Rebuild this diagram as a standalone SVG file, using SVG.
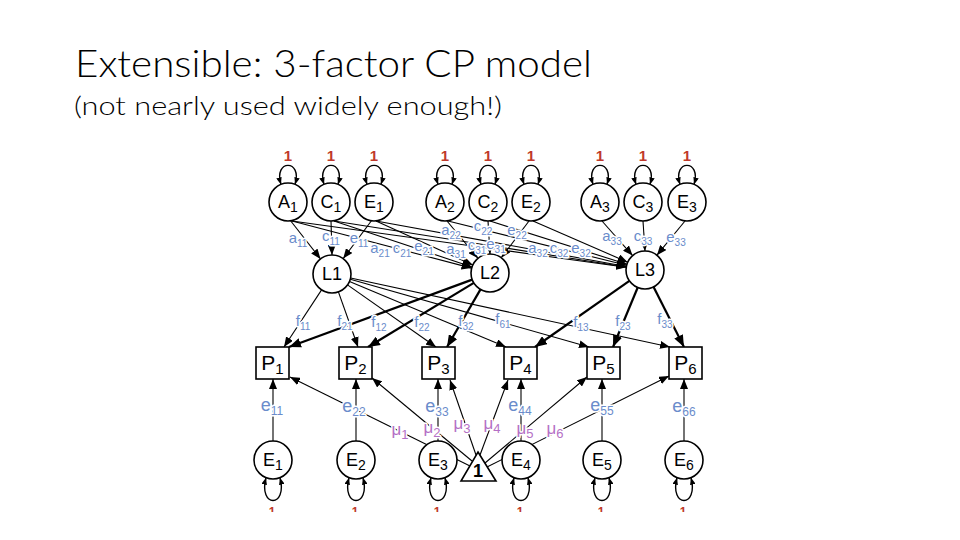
<svg xmlns="http://www.w3.org/2000/svg" width="960" height="540" viewBox="0 0 960 540">
<defs>
<marker id="ah" viewBox="0 0 10 8" refX="10" refY="4" markerWidth="10" markerHeight="8" markerUnits="userSpaceOnUse" orient="auto-start-reverse"><path d="M0,0 L10,4 L0,8 z" fill="#000"/></marker>
<marker id="ahb" viewBox="0 0 10 8" refX="10" refY="4" markerWidth="12" markerHeight="9.6" markerUnits="userSpaceOnUse" orient="auto-start-reverse"><path d="M0,0 L10,4 L0,8 z" fill="#000"/></marker>
<marker id="ahs" viewBox="0 0 10 8" refX="10" refY="4" markerWidth="7" markerHeight="5.6" markerUnits="userSpaceOnUse" orient="auto-start-reverse"><path d="M0,0 L10,4 L0,8 z" fill="#000"/></marker>
<clipPath id="clipb"><rect x="0" y="0" width="960" height="512"/></clipPath>
</defs>
<style>
.c{fill:#fff;stroke:#000;stroke-width:1.6}
.ln{stroke:#000;stroke-width:1.1;fill:none;marker-end:url(#ah)}
.lb{stroke:#000;stroke-width:2.2;fill:none;marker-end:url(#ahb)}
.loop{fill:none;stroke:#000;stroke-width:1.4;marker-start:url(#ahs);marker-end:url(#ahs)}
.nt{font-family:"Liberation Sans",Arial,sans-serif;font-size:18px;text-anchor:middle;fill:#000}
.nt .s{font-size:14px}
.pt{font-family:"Liberation Sans",Arial,sans-serif;font-size:21px;text-anchor:middle;fill:#000}
.pt .s{font-size:15px}
.lab{font-family:"Liberation Sans",Arial,sans-serif;font-size:15px;fill:#6a8ccb;text-anchor:middle;stroke:#fff;stroke-width:3;paint-order:stroke;stroke-linejoin:round}
.lab .s{font-size:10px}
.el{font-size:18px}
.el .s{font-size:12px}
.mu{fill:#b46fc5;font-size:17px}
.mu .s{font-size:13px}
.one{font-family:"Liberation Sans",Arial,sans-serif;font-weight:bold;font-size:15px;fill:#c0392b;text-anchor:middle}
.oneb{font-family:"Liberation Sans",Arial,sans-serif;font-weight:bold;font-size:12px;fill:#c0392b;text-anchor:middle}
.title{font-family:Lato,"Open Sans","Liberation Sans",sans-serif;font-weight:300;fill:#000}
</style>
<rect width="960" height="540" fill="#fff"/>
<text class="title" x="75" y="77" font-size="38" textLength="517" lengthAdjust="spacingAndGlyphs">Extensible: 3-factor CP model</text>
<text class="title" x="74" y="115" font-size="26" textLength="428" lengthAdjust="spacingAndGlyphs">(not nearly used widely enough!)</text>

<g id="connectors">
<path class="ln" d="M290,220 L320.5,258.9"/>
<path class="ln" d="M331,221 L332,255"/>
<path class="ln" d="M372,220 L343.2,258.6"/>
<path class="ln" d="M292,221 L471.6,268.1"/>
<path class="ln" d="M292,221 L626.2,267.3"/>
<path class="ln" d="M334,221 L472,266.9"/>
<path class="ln" d="M334,221 L626.2,267"/>
<path class="ln" d="M376,221 L472.8,265"/>
<path class="ln" d="M376,221 L626.3,266.5"/>
<path class="ln" d="M447,221 L478,258.3"/>
<path class="ln" d="M448,221 L626.6,265.3"/>
<path class="ln" d="M488,221 L490,254"/>
<path class="ln" d="M490,221 L626.9,264.2"/>
<path class="ln" d="M529,221 L501.3,257.7"/>
<path class="ln" d="M533,221 L627.7,262.2"/>
<path class="ln" d="M602,221 L632.6,255.6"/>
<path class="ln" d="M643,221 L645,251"/>
<path class="ln" d="M685,221 L656.9,255.2"/>

<path class="ln" d="M321.6,289.9 L284,347"/>
<path class="ln" d="M338.4,291.9 L358,347"/>
<path class="ln" d="M347.5,284.9 L436,347"/>
<path class="ln" d="M349.5,281.4 L506,347"/>
<path class="ln" d="M350.3,279.2 L589,347"/>
<path class="ln" d="M350.6,278 L670,347"/>
<path class="lb" d="M472.2,279.6 L289,347"/>
<path class="lb" d="M473.8,282.9 L368,347"/>
<path class="lb" d="M480.5,289.4 L447,347"/>
<path class="lb" d="M629.4,280.9 L535,347"/>
<path class="lb" d="M637.7,287.5 L613,347"/>
<path class="lb" d="M653.6,287 L684,347"/>

<path class="ln" d="M273,441 L273,379"/>
<path class="ln" d="M356,441 L356,379"/>
<path class="ln" d="M438,441 L438,379"/>
<path class="ln" d="M521,441 L521,379"/>
<path class="ln" d="M602,441 L602,379"/>
<path class="ln" d="M684,441 L684,379"/>

<path class="ln" d="M470,466 L290,377"/>
<path class="ln" d="M472,461 L372,378"/>
<path class="ln" d="M476,455 L450,380"/>
<path class="ln" d="M480,455 L508,380"/>
<path class="ln" d="M485,463 L587,377"/>
<path class="ln" d="M487,467 L669,376"/>

<path class="loop" d="M281,184.4 C273,159 303,159 295,184.4"/>
<path class="loop" d="M324,184.4 C316,159 346,159 338,184.4"/>
<path class="loop" d="M367,184.4 C359,159 389,159 381,184.4"/>
<path class="loop" d="M438,184.4 C430,159 460,159 452,184.4"/>
<path class="loop" d="M481,184.4 C473,159 503,159 495,184.4"/>
<path class="loop" d="M524,184.4 C516,159 546,159 538,184.4"/>
<path class="loop" d="M593,184.4 C585,159 615,159 607,184.4"/>
<path class="loop" d="M636,184.4 C628,159 658,159 650,184.4"/>
<path class="loop" d="M680,184.4 C672,159 702,159 694,184.4"/>

<path class="loop" d="M266,477.7 C258,508 288,508 280,477.7"/>
<path class="loop" d="M349,477.7 C341,508 371,508 363,477.7"/>
<path class="loop" d="M431,477.7 C423,508 453,508 445,477.7"/>
<path class="loop" d="M514,477.7 C506,508 536,508 528,477.7"/>
<path class="loop" d="M595,477.7 C587,508 617,508 609,477.7"/>
<path class="loop" d="M677,477.7 C669,508 699,508 691,477.7"/>
</g>

<g id="A1"><circle class="c" cx="288" cy="202" r="19"/><text class="nt" x="288" y="208">A<tspan class="s" dy="4">1</tspan></text></g>
<g id="C1"><circle class="c" cx="331" cy="202" r="19"/><text class="nt" x="331" y="208">C<tspan class="s" dy="4">1</tspan></text></g>
<g id="E1top"><circle class="c" cx="374" cy="202" r="19"/><text class="nt" x="374" y="208">E<tspan class="s" dy="4">1</tspan></text></g>
<g id="A2"><circle class="c" cx="445" cy="202" r="19"/><text class="nt" x="445" y="208">A<tspan class="s" dy="4">2</tspan></text></g>
<g id="C2"><circle class="c" cx="488" cy="202" r="19"/><text class="nt" x="488" y="208">C<tspan class="s" dy="4">2</tspan></text></g>
<g id="E2top"><circle class="c" cx="531" cy="202" r="19"/><text class="nt" x="531" y="208">E<tspan class="s" dy="4">2</tspan></text></g>
<g id="A3"><circle class="c" cx="600" cy="202" r="19"/><text class="nt" x="600" y="208">A<tspan class="s" dy="4">3</tspan></text></g>
<g id="C3"><circle class="c" cx="643" cy="202" r="19"/><text class="nt" x="643" y="208">C<tspan class="s" dy="4">3</tspan></text></g>
<g id="E3top"><circle class="c" cx="687" cy="202" r="19"/><text class="nt" x="687" y="208">E<tspan class="s" dy="4">3</tspan></text></g>

<g id="ones-top">
<text class="one" x="288" y="161">1</text><text class="one" x="331" y="161">1</text><text class="one" x="374" y="161">1</text>
<text class="one" x="445" y="161">1</text><text class="one" x="488" y="161">1</text><text class="one" x="531" y="161">1</text>
<text class="one" x="600" y="161">1</text><text class="one" x="643" y="161">1</text><text class="one" x="687" y="161">1</text>
</g>

<g id="L1"><circle class="c" cx="332" cy="274" r="19"/><text class="nt" x="332" y="280" font-size="17">L1</text></g>
<g id="L2"><circle class="c" cx="490" cy="273" r="19"/><text class="nt" x="490" y="279" font-size="17">L2</text></g>
<g id="L3"><circle class="c" cx="645" cy="270" r="19"/><text class="nt" x="645" y="276" font-size="17">L3</text></g>

<g id="P1"><rect class="c" x="256" y="347" width="33" height="32"/><text class="pt" x="272.5" y="370">P<tspan class="s" dy="4">1</tspan></text></g>
<g id="P2"><rect class="c" x="339" y="347" width="33" height="32"/><text class="pt" x="355.5" y="370">P<tspan class="s" dy="4">2</tspan></text></g>
<g id="P3"><rect class="c" x="422" y="347" width="33" height="32"/><text class="pt" x="438.5" y="370">P<tspan class="s" dy="4">3</tspan></text></g>
<g id="P4"><rect class="c" x="504" y="347" width="33" height="32"/><text class="pt" x="520.5" y="370">P<tspan class="s" dy="4">4</tspan></text></g>
<g id="P5"><rect class="c" x="587" y="347" width="33" height="32"/><text class="pt" x="603.5" y="370">P<tspan class="s" dy="4">5</tspan></text></g>
<g id="P6"><rect class="c" x="669" y="347" width="33" height="32"/><text class="pt" x="685.5" y="370">P<tspan class="s" dy="4">6</tspan></text></g>

<g id="Eb1"><circle class="c" cx="273" cy="460" r="19"/><text class="nt" x="273" y="466" font-size="19">E<tspan class="s" dy="4">1</tspan></text></g>
<g id="Eb2"><circle class="c" cx="356" cy="460" r="19"/><text class="nt" x="356" y="466" font-size="19">E<tspan class="s" dy="4">2</tspan></text></g>
<g id="Eb3"><circle class="c" cx="438" cy="460" r="19"/><text class="nt" x="438" y="466" font-size="19">E<tspan class="s" dy="4">3</tspan></text></g>
<g id="Eb4"><circle class="c" cx="521" cy="460" r="19"/><text class="nt" x="521" y="466" font-size="19">E<tspan class="s" dy="4">4</tspan></text></g>
<g id="Eb5"><circle class="c" cx="602" cy="460" r="19"/><text class="nt" x="602" y="466" font-size="19">E<tspan class="s" dy="4">5</tspan></text></g>
<g id="Eb6"><circle class="c" cx="684" cy="460" r="19"/><text class="nt" x="684" y="466" font-size="19">E<tspan class="s" dy="4">6</tspan></text></g>

<g id="mean"><path class="c" d="M478,452 L496,481 L461,481 Z"/><text class="nt" x="478" y="477" font-size="14" font-weight="bold">1</text></g>

<g id="ones-bottom" clip-path="url(#clipb)">
<text class="oneb" x="272" y="516">1</text><text class="oneb" x="355" y="516">1</text><text class="oneb" x="437" y="516">1</text>
<text class="oneb" x="520" y="516">1</text><text class="oneb" x="601" y="516">1</text><text class="oneb" x="683" y="516">1</text>
</g>

<g id="labels">
<text class="lab" x="298" y="243">a<tspan class="s" dy="4">11</tspan></text>
<text class="lab" x="331" y="241">c<tspan class="s" dy="4">11</tspan></text>
<text class="lab" x="359" y="243">e<tspan class="s" dy="4">11</tspan></text>
<text class="lab" x="380" y="253">a<tspan class="s" dy="4">21</tspan></text>
<text class="lab" x="402" y="253">c<tspan class="s" dy="4">21</tspan></text>
<text class="lab" x="424" y="251">e<tspan class="s" dy="4">21</tspan></text>
<text class="lab" x="451" y="235">a<tspan class="s" dy="4">22</tspan></text>
<text class="lab" x="483" y="231">c<tspan class="s" dy="4">22</tspan></text>
<text class="lab" x="517" y="235">e<tspan class="s" dy="4">22</tspan></text>
<text class="lab" x="456" y="254">a<tspan class="s" dy="4">31</tspan></text>
<text class="lab" x="477" y="250">c<tspan class="s" dy="4">31</tspan></text>
<text class="lab" x="496" y="249">e<tspan class="s" dy="4">31</tspan></text>
<text class="lab" x="538" y="253">a<tspan class="s" dy="4">32</tspan></text>
<text class="lab" x="559" y="253">c<tspan class="s" dy="4">32</tspan></text>
<text class="lab" x="581" y="253">e<tspan class="s" dy="4">32</tspan></text>
<text class="lab" x="612" y="241">a<tspan class="s" dy="4">33</tspan></text>
<text class="lab" x="643" y="241">c<tspan class="s" dy="4">33</tspan></text>
<text class="lab" x="676" y="242">e<tspan class="s" dy="4">33</tspan></text>

<text class="lab" x="303" y="326">f<tspan class="s" dy="4">11</tspan></text>
<text class="lab" x="345" y="326">f<tspan class="s" dy="4">21</tspan></text>
<text class="lab" x="379" y="327">f<tspan class="s" dy="4">12</tspan></text>
<text class="lab" x="422" y="327">f<tspan class="s" dy="4">22</tspan></text>
<text class="lab" x="466" y="326">f<tspan class="s" dy="4">32</tspan></text>
<text class="lab" x="503" y="324">f<tspan class="s" dy="4">61</tspan></text>
<text class="lab" x="581" y="327">f<tspan class="s" dy="4">13</tspan></text>
<text class="lab" x="623" y="326">f<tspan class="s" dy="4">23</tspan></text>
<text class="lab" x="665" y="324">f<tspan class="s" dy="4">33</tspan></text>

<text class="lab el" x="272" y="411">e<tspan class="s" dy="4">11</tspan></text>
<text class="lab el" x="354" y="412">e<tspan class="s" dy="4">22</tspan></text>
<text class="lab el" x="437" y="412">e<tspan class="s" dy="4">33</tspan></text>
<text class="lab el" x="520" y="411">e<tspan class="s" dy="4">44</tspan></text>
<text class="lab el" x="602" y="411">e<tspan class="s" dy="4">55</tspan></text>
<text class="lab el" x="684" y="412">e<tspan class="s" dy="4">66</tspan></text>

<text class="lab mu" x="400" y="435">μ<tspan class="s" dy="4">1</tspan></text>
<text class="lab mu" x="432" y="433">μ<tspan class="s" dy="4">2</tspan></text>
<text class="lab mu" x="462" y="429">μ<tspan class="s" dy="4">3</tspan></text>
<text class="lab mu" x="492" y="429">μ<tspan class="s" dy="4">4</tspan></text>
<text class="lab mu" x="525" y="434">μ<tspan class="s" dy="4">5</tspan></text>
<text class="lab mu" x="555" y="434">μ<tspan class="s" dy="4">6</tspan></text>
</g>
</svg>
